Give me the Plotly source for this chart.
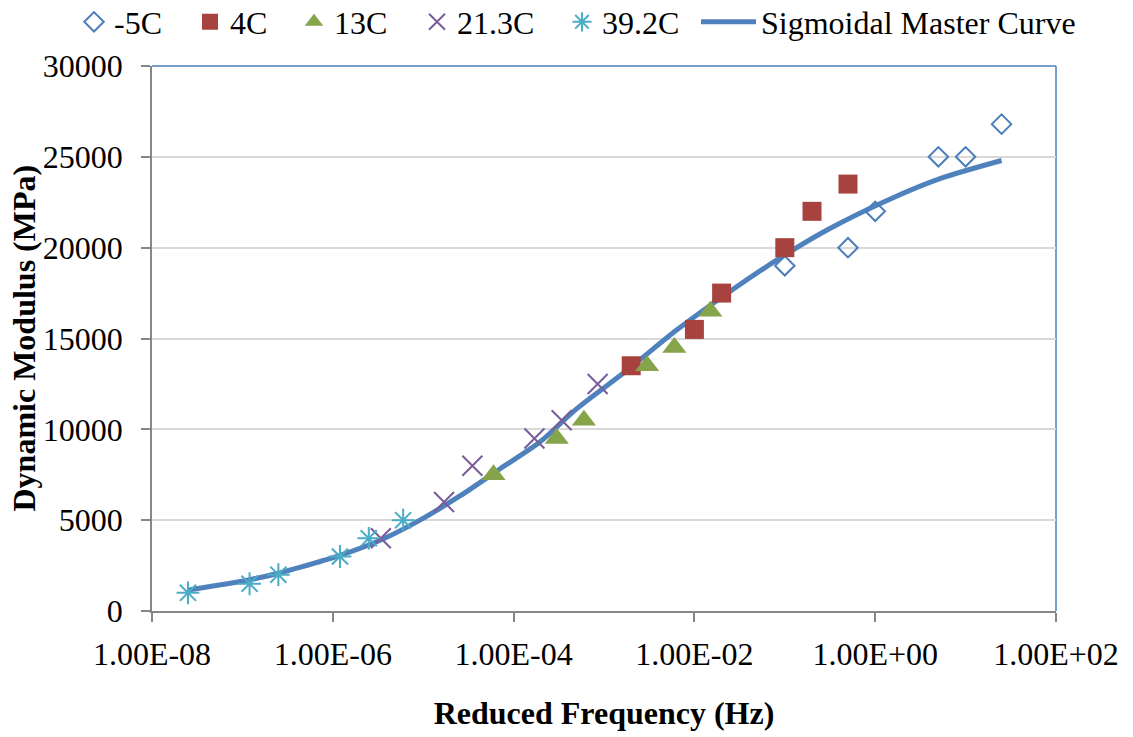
import plotly.graph_objects as go

# ---- data ----
freq_m5 = [0.1, 0.5, 1, 5, 10, 25]
E_m5 = [19000, 20000, 22000, 25000, 25000, 26800]

freq_4 = [0.002, 0.01, 0.02, 0.1, 0.2, 0.5]
E_4 = [13500, 15500, 17500, 20000, 22000, 23500]

freq_13 = [6e-5, 3e-4, 6e-4, 3e-3, 6e-3, 1.5e-2]
E_13 = [7500, 9500, 10500, 13500, 14500, 16500]

freq_21 = [3.4e-6, 1.7e-5, 3.5e-5, 1.7e-4, 3.4e-4, 8.5e-4]
E_21 = [4000, 6000, 8000, 9500, 10500, 12500]

freq_39 = [2.5e-8, 1.2e-7, 2.5e-7, 1.2e-6, 2.5e-6, 6e-6]
E_39 = [1000, 1500, 2000, 3000, 4000, 5000]

freq_mc = [2.5e-8, 1.2e-7, 2.5e-7, 4.4e-7, 1.2e-6, 3.3e-6, 9.1e-6, 2.6e-5,
           7.1e-5, 1.95e-4, 5e-4, 1.8e-3, 6.3e-3, 2.3e-2, 8.1e-2, 0.29,
           1.35, 5.2, 25]
E_mc = [1150, 1720, 2080, 2410, 3060, 3880, 4990, 6360, 7830, 9300, 11140,
        13250, 15450, 17480, 19310, 20960, 22600, 23800, 24800]

x_tickvals = [1e-8, 1e-6, 1e-4, 1e-2, 1e0, 1e2]
x_ticktext = ["1.00E-08", "1.00E-06", "1.00E-04", "1.00E-02", "1.00E+00", "1.00E+02"]
y_tickvals = [0, 5000, 10000, 15000, 20000, 25000, 30000]

FONT = "Liberation Serif, Times New Roman, serif"
BLUE = "#4A7EBB"
FS = 32

fig = go.Figure()

fig.add_trace(go.Scatter(
    x=freq_mc, y=E_mc, mode="lines", name="Sigmoidal Master Curve", legend="legend6",
    line=dict(color="#4F81BD", width=5, shape="spline", smoothing=0.8)))
fig.add_trace(go.Scatter(
    x=freq_m5, y=E_m5, mode="markers", name="-5C", legend="legend",
    marker=dict(symbol="diamond-open", size=15, color=BLUE, line=dict(width=2, color=BLUE))))
fig.add_trace(go.Scatter(
    x=freq_4, y=E_4, mode="markers", name="4C", legend="legend2",
    marker=dict(symbol="square", size=19, color="#A8423E", line=dict(width=0))))
fig.add_trace(go.Scatter(
    x=freq_13, y=E_13, mode="markers", name="13C", legend="legend3",
    marker=dict(symbol="triangle-up", size=21, color="#86A44A", line=dict(width=0))))
fig.add_trace(go.Scatter(
    x=freq_21, y=E_21, mode="markers", name="21.3C", legend="legend4",
    marker=dict(symbol="x-thin-open", size=20, color="#7A5C99", line=dict(width=2, color="#7A5C99"))))
fig.add_trace(go.Scatter(
    x=freq_39, y=E_39, mode="markers", name="39.2C", legend="legend5",
    marker=dict(symbol="asterisk-open", size=19, color="#4BACC6", line=dict(width=2, color="#4BACC6"))))

L, R, T, B = 152, 77, 66, 126
W, H = 1133, 737
pw = W - L - R
ph = H - T - B

def lx(px):
    return (px - L) / pw

legend_common = dict(orientation="h", yanchor="middle", y=1.0 + (T - 22) / ph,
                     xanchor="left", bgcolor="rgba(0,0,0,0)", borderwidth=0,
                     font=dict(family=FONT, size=FS, color="black"))
starts = [74, 190, 294, 417, 562, 696]
lay = {}
names = ["legend", "legend2", "legend3", "legend4", "legend5", "legend6"]
for n, s in zip(names, starts):
    d = dict(legend_common)
    d["x"] = lx(s)
    if n == "legend6":
        d["itemwidth"] = 55
    lay[n] = d

fig.update_layout(
    width=W, height=H,
    margin=dict(l=L, r=R, t=T, b=B, autoexpand=False),
    paper_bgcolor="white", plot_bgcolor="white",
    font=dict(family=FONT, size=FS, color="black"),
    xaxis=dict(type="log", range=[-8, 2], tickvals=x_tickvals, ticktext=x_ticktext,
               showgrid=False, zeroline=False, showline=True, linecolor="#868686", linewidth=1.5,
               ticks="outside", ticklen=9, tickcolor="#868686", tickwidth=1.5,
               ticklabelstandoff=5,
               tickfont=dict(family=FONT, size=FS, color="black"),
               title=dict(text="<b>Reduced Frequency (Hz)</b>", font=dict(family=FONT, size=FS), standoff=30)),
    yaxis=dict(range=[0, 30000], tickvals=y_tickvals, tickformat="d",
               showgrid=True, gridcolor="#D9D9D9", gridwidth=1.5, zeroline=False,
               showline=True, linecolor="#868686", linewidth=1.5,
               ticks="outside", ticklen=9, tickcolor="#868686", tickwidth=1.5,
               ticklabelstandoff=12,
               tickfont=dict(family=FONT, size=FS, color="black")),
    showlegend=True,
    **lay,
)

# y-axis title placed as an annotation for exact positioning
fig.add_annotation(text="<b>Dynamic Modulus (MPa)</b>", textangle=-90,
                   xref="paper", yref="paper", x=lx(23), y=0.5,
                   xanchor="center", yanchor="middle", showarrow=False,
                   font=dict(family=FONT, size=FS, color="black"))

# top and right border of the plot area (blue)
fig.add_shape(type="line", xref="paper", yref="paper", x0=0, x1=1, y0=1, y1=1,
              line=dict(color=BLUE, width=1.5), layer="below")
fig.add_shape(type="line", xref="paper", yref="paper", x0=1, x1=1, y0=0, y1=1,
              line=dict(color=BLUE, width=1.5), layer="below")

fig.write_html("out.html", config={"displayModeBar": False},
               post_script="document.body.style.margin='0px';")
